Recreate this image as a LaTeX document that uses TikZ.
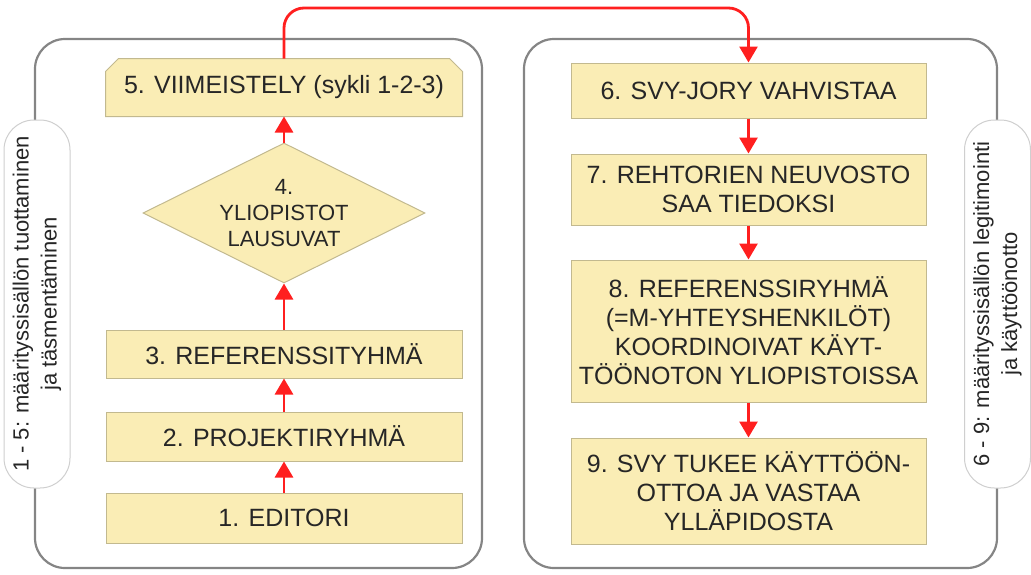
\documentclass[tikz,border=0pt]{standalone}
\usepackage{fontspec}
\setmainfont{Liberation Sans}
\usetikzlibrary{arrows.meta,shapes.geometric,backgrounds}
\definecolor{stepfill}{HTML}{FAEDB5}
\definecolor{stepline}{HTML}{C2B98F}
\definecolor{framegray}{HTML}{858585}
\definecolor{pillgray}{HTML}{CFCFCF}
\definecolor{flowred}{HTML}{FF1F1F}
\definecolor{inkgray}{HTML}{262626}
\begin{document}
\begin{tikzpicture}[x=1pt,y=-1pt,
  container/.style={draw=framegray, line width=2.2pt, rounded corners=30pt, inner sep=0pt},
  stepbox/.style={rectangle, draw=stepline, line width=1pt, fill=stepfill,
    minimum width=356pt, inner sep=0pt, align=center, text=inkgray,
    font=\fontsize{25}{29}\selectfont},
  sidelabel/.style={draw=pillgray, fill=white, line width=1pt, rounded corners=30pt,
    rotate=90, minimum width=368pt, minimum height=66pt, inner sep=0pt,
    align=center, text=inkgray, font=\fontsize{22}{28}\selectfont},
  flow/.style={draw=flowred, line width=2.8pt, -{Triangle[width=18pt,length=16pt]}}
]
\useasboundingbox (0,0) rectangle (1031,574);

% two phase frames
\node[container, minimum width=447pt, minimum height=529pt] (leftframe) at (258.5,303.5) {};
\node[container, minimum width=473pt, minimum height=529pt] (rightframe) at (760.5,303.5) {};

% phase captions on the frame edges
\node[sidelabel] (leftnote) at (37,304) {1 - 5: määrityssisällön tuottaminen\\ja täsmentäminen};
\node[sidelabel] (rightnote) at (997.5,304) {6 - 9: määrityssisällön legitimointi\\ja käyttöönotto};

% production steps (bottom to top)
\node[stepbox, minimum height=50pt] (s1) at (284,518) {1. EDITORI};
\node[stepbox, minimum height=49pt] (s2) at (284,436.5) {2. PROJEKTIRYHMÄ};
\node[stepbox, minimum height=48pt] (s3) at (284,354) {3. REFERENSSITYHMÄ};
\node[diamond, draw=stepline, fill=stepfill, line width=1pt, minimum width=282pt,
      minimum height=140pt, inner sep=0pt] (s4) at (284,213) {};
\node[align=center, text=inkgray, font=\fontsize{22}{26}\selectfont, inner sep=0pt]
      (s4text) at (s4.center) {4.\\YLIOPISTOT\\LAUSUVAT};
\node[stepbox, draw=none, fill=none, minimum height=57pt] (s5) at (284,87.5) {5. VIIMEISTELY (sykli 1-2-3)};
% step 5 has its two upper corners cut off
\begin{scope}[on background layer]
  \filldraw[draw=stepline, fill=stepfill, line width=1pt]
    (s5.south west) -- ([yshift=-13pt]s5.north west) -- ([xshift=13pt]s5.north west)
    -- ([xshift=-13pt]s5.north east) -- ([yshift=-13pt]s5.north east)
    -- (s5.south east) -- cycle;
\end{scope}

% approval steps (top to bottom)
\node[stepbox, minimum width=355pt, minimum height=55pt] (s6) at (748.5,90.5) {6. SVY-JORY VAHVISTAA};
\node[stepbox, minimum width=355pt, minimum height=71pt] (s7) at (748.5,189.5) {7. REHTORIEN NEUVOSTO\\SAA TIEDOKSI};
\node[stepbox, minimum width=355pt, minimum height=142pt] (s8) at (748.5,331) {8. REFERENSSIRYHMÄ\\(=M-YHTEYSHENKILÖT)\\KOORDINOIVAT KÄYT-\\TÖÖNOTON YLIOPISTOISSA};
\node[stepbox, minimum width=355pt, minimum height=106pt] (s9) at (748.5,491) {9. SVY TUKEE KÄYTTÖÖN-\\OTTOA JA VASTAA\\YLLÄPIDOSTA};

% flow
\draw[flow] (s1) -- (s2);
\draw[flow] (s2) -- (s3);
\draw[flow] (s3) -- (s4);
\draw[flow] (s4) -- (s5);
\coordinate (looptop) at (516,8);
\draw[flow, rounded corners=20pt] (s5.north) -- (s5.north |- looptop) -- (s6.north |- looptop) -- (s6.north);
\draw[flow] (s6) -- (s7);
\draw[flow] (s7) -- (s8);
\draw[flow] (s8) -- (s9);
\end{tikzpicture}
\end{document}
